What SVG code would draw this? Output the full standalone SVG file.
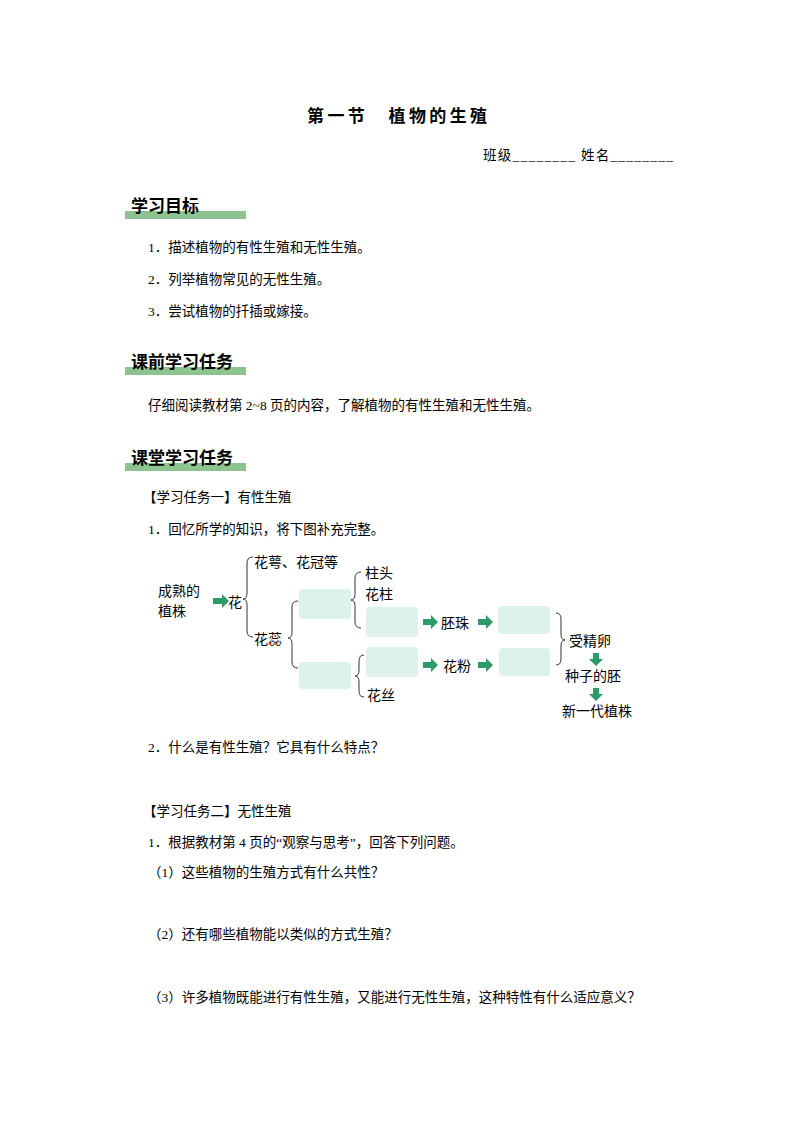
<svg xmlns="http://www.w3.org/2000/svg" width="794" height="1123" viewBox="0 0 794 1123">
<defs>
<style>
text{font-family:"Liberation Serif","Noto Sans CJK SC",sans-serif;fill:#000}
.b{font-size:13.5px}
.h{font-size:17px;font-weight:bold}
.d{font-size:14px}
.bar{fill:#8dc38f}
.box{fill:#dcf2ea}
.br{fill:none;stroke:#333;stroke-width:1}
.arr{fill:#2e9a6a}
</style>
</defs>
<rect width="794" height="1123" fill="#fff"/>
<text x="307" y="122" textLength="180" style="font-size:17px;font-weight:bold">第一节　植物的生殖</text>
<text x="483" y="160" class="b" textLength="190">班级________ 姓名________</text>

<rect class="bar" x="125" y="211" width="121" height="8"/>
<text x="131" y="212" class="h">学习目标</text>
<text x="148" y="252" class="b">1．描述植物的有性生殖和无性生殖。</text>
<text x="148" y="284" class="b">2．列举植物常见的无性生殖。</text>
<text x="148" y="316" class="b">3．尝试植物的扦插或嫁接。</text>

<rect class="bar" x="125" y="367" width="121" height="8"/>
<text x="131" y="368" class="h">课前学习任务</text>
<text x="148" y="410" class="b">仔细阅读教材第 2~8 页的内容，了解植物的有性生殖和无性生殖。</text>

<rect class="bar" x="125" y="463" width="121" height="8"/>
<text x="131" y="464" class="h">课堂学习任务</text>
<text x="143" y="502" class="b">【学习任务一】有性生殖</text>
<text x="148" y="534" class="b">1．回忆所学的知识，将下图补充完整。</text>

<g id="connectors">
<path class="br" d="M253,557 Q247,557 247,563 L247,593 Q247,599 243,599 Q247,599 247,605 L247,631 Q247,637 253,637"/>
<path class="br" d="M298,601 Q292,601 292,607 L292,632 Q292,638 288,638 Q292,638 292,644 L292,662 Q292,668 298,668"/>
<path class="br" d="M361,572 Q355,572 355,578 L355,594 Q355,600 351,600 Q355,600 355,606 L355,622 Q355,628 361,628"/>
<path class="br" d="M364,655 Q359,655 359,661 L359,670 Q359,676 355,676 Q359,676 359,682 L359,691 Q359,697 364,697"/>
<path class="br" d="M556,613 Q561,613 561,619 L561,634 Q561,640 565,640 Q561,640 561,646 L561,659 Q561,665 556,665"/>
<polygon class="arr" points="213,598 222,598 222,594 229,601 222,608 222,604 213,604"/>
<polygon class="arr" points="423,619 431,619 431,615 438,622 431,629 431,625 423,625"/>
<polygon class="arr" points="478,619 486,619 486,615 493,622 486,629 486,625 478,625"/>
<polygon class="arr" points="423,662 431,662 431,658 438,665 431,672 431,668 423,668"/>
<polygon class="arr" points="478,662 486,662 486,658 493,665 486,672 486,668 478,668"/>
<polygon class="arr" points="593,653 599,653 599,659 603,659 596,666 589,659 593,659"/>
<polygon class="arr" points="593,688 599,688 599,694 603,694 596,701 589,694 593,694"/>
</g>
<g id="n-plant"><text x="158" y="596" class="d">成熟的</text><text x="158" y="616" class="d">植株</text></g>
<g id="n-flower"><text x="228" y="607" class="d">花</text></g>
<g id="n-calyx"><text x="254" y="567" class="d">花萼、花冠等</text></g>
<g id="n-stamen-pistil"><text x="254" y="644" class="d">花蕊</text></g>
<g id="n-boxA"><rect class="box" x="299" y="589" width="52" height="30" rx="4"/></g>
<g id="n-boxB"><rect class="box" x="299" y="662" width="52" height="27" rx="4"/></g>
<g id="n-stigma"><text x="365" y="578" class="d">柱头</text></g>
<g id="n-style"><text x="365" y="599" class="d">花柱</text></g>
<g id="n-boxC"><rect class="box" x="366" y="607" width="52" height="30" rx="4"/></g>
<g id="n-boxE"><rect class="box" x="366" y="647" width="52" height="30" rx="4"/></g>
<g id="n-filament"><text x="367" y="700" class="d">花丝</text></g>
<g id="n-ovule"><text x="441" y="628" class="d">胚珠</text></g>
<g id="n-pollen"><text x="443" y="671" class="d">花粉</text></g>
<g id="n-boxD"><rect class="box" x="498" y="606" width="52" height="28" rx="4"/></g>
<g id="n-boxF"><rect class="box" x="499" y="648" width="51" height="28" rx="4"/></g>
<g id="n-zygote"><text x="569" y="646" class="d">受精卵</text></g>
<g id="n-embryo"><text x="565" y="681" class="d">种子的胚</text></g>
<g id="n-new"><text x="562" y="716" class="d">新一代植株</text></g>

<text x="148" y="752" class="b">2．什么是有性生殖？它具有什么特点？</text>
<text x="143" y="816" class="b">【学习任务二】无性生殖</text>
<text x="148" y="847" class="b">1．根据教材第 4 页的“观察与思考”，回答下列问题。</text>
<text x="148" y="877" class="b">（1）这些植物的生殖方式有什么共性？</text>
<text x="148" y="939" class="b">（2）还有哪些植物能以类似的方式生殖？</text>
<text x="148" y="1002" class="b">（3）许多植物既能进行有性生殖，又能进行无性生殖，这种特性有什么适应意义？</text>
</svg>
